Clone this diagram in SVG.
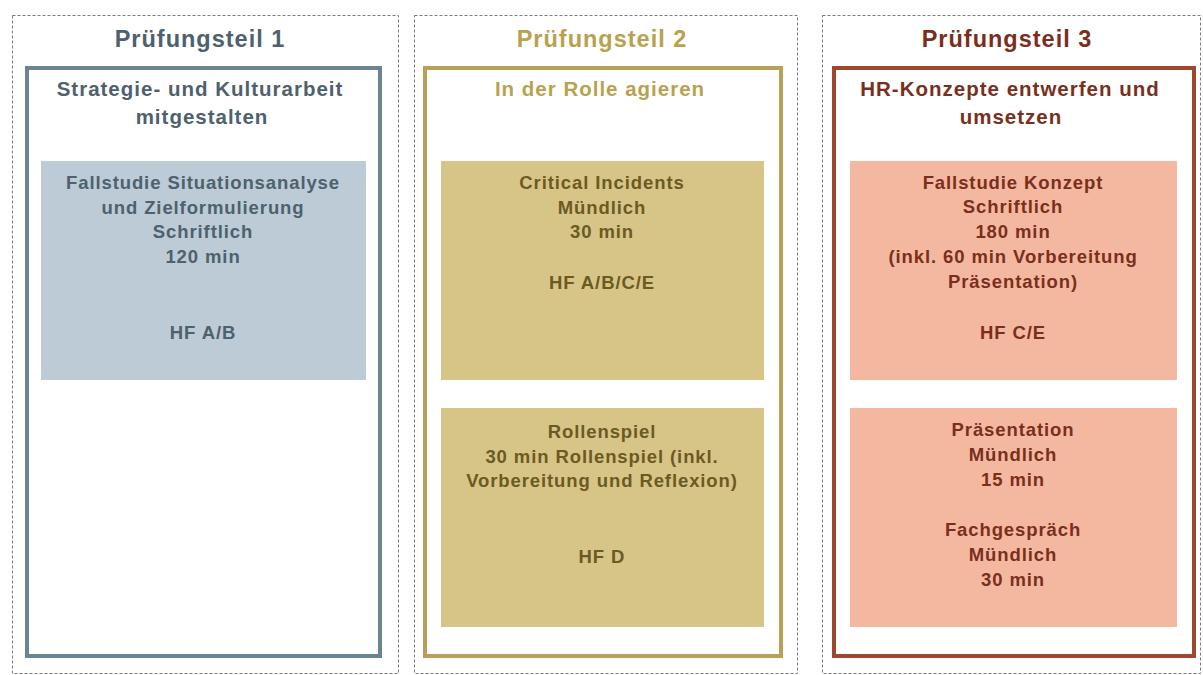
<svg xmlns="http://www.w3.org/2000/svg" width="1203" height="675" viewBox="0 0 1203 675">
<style>
.outer{fill:#fff;stroke:#7a7a7a;stroke-width:1;stroke-dasharray:3 2}
.inner{fill:#fff;stroke-width:4}
text{font-family:"Liberation Sans",Arial,sans-serif;font-weight:bold;text-anchor:middle}
.t{font-size:23.5px;letter-spacing:1px}
.s{font-size:20.5px;letter-spacing:1px}
.b{font-size:18.5px;letter-spacing:0.9px}
.c1{fill:#4d616e}.c2{fill:#b8a24e}.c3{fill:#7a2f1c}
.d2{fill:#6b5a22}
</style>
<rect width="1203" height="675" fill="#fff"/>
<g id="teil1">
<rect class="outer" x="12.5" y="15.5" width="386" height="658"/>
<text class="t c1" x="200" y="47">Prüfungsteil 1</text>
<rect class="inner" x="27" y="68" width="353" height="588" stroke="#6a8491"/>
<text class="s c1" x="200" y="96">Strategie- und Kulturarbeit</text>
<text class="s c1" x="202" y="124">mitgestalten</text>
</g>
<g id="fall1">
<rect x="41" y="161" width="325" height="219" fill="#bccbd5"/>
<text class="b c1" x="203" y="189">Fallstudie Situationsanalyse</text>
<text class="b c1" x="203" y="214">und Zielformulierung</text>
<text class="b c1" x="203" y="238">Schriftlich</text>
<text class="b c1" x="203" y="263">120 min</text>
<text class="b c1" x="203" y="339">HF A/B</text>
</g>
<g id="teil2">
<rect class="outer" x="414.5" y="15.5" width="383" height="658"/>
<text class="t c2" x="602" y="47">Prüfungsteil 2</text>
<rect class="inner" x="425" y="68" width="356" height="588" stroke="#b9a058"/>
<text class="s c2" x="600" y="96">In der Rolle agieren</text>
</g>
<g id="critical">
<rect x="441" y="161" width="323" height="219" fill="#d7c588"/>
<text class="b d2" x="602" y="189">Critical Incidents</text>
<text class="b d2" x="602" y="214">Mündlich</text>
<text class="b d2" x="602" y="238">30 min</text>
<text class="b d2" x="602" y="289">HF A/B/C/E</text>
</g>
<g id="rollenspiel">
<rect x="441" y="408" width="323" height="219" fill="#d7c588"/>
<text class="b d2" x="602" y="438">Rollenspiel</text>
<text class="b d2" x="602" y="463">30 min Rollenspiel (inkl.</text>
<text class="b d2" x="602" y="487">Vorbereitung und Reflexion)</text>
<text class="b d2" x="602" y="563">HF D</text>
</g>
<g id="teil3">
<rect class="outer" x="822.5" y="15.5" width="378" height="658"/>
<text class="t c3" x="1007" y="47">Prüfungsteil 3</text>
<rect class="inner" x="834" y="68" width="360" height="588" stroke="#a0462a"/>
<text class="s c3" x="1010" y="96">HR-Konzepte entwerfen und</text>
<text class="s c3" x="1011" y="124">umsetzen</text>
</g>
<g id="konzept">
<rect x="850" y="161" width="327" height="219" fill="#f4b8a0"/>
<text class="b c3" x="1013" y="189">Fallstudie Konzept</text>
<text class="b c3" x="1013" y="213">Schriftlich</text>
<text class="b c3" x="1013" y="238">180 min</text>
<text class="b c3" x="1013" y="263">(inkl. 60 min Vorbereitung</text>
<text class="b c3" x="1013" y="288">Präsentation)</text>
<text class="b c3" x="1013" y="339">HF C/E</text>
</g>
<g id="praesentation">
<rect x="850" y="408" width="327" height="219" fill="#f4b8a0"/>
<text class="b c3" x="1013" y="436">Präsentation</text>
<text class="b c3" x="1013" y="461">Mündlich</text>
<text class="b c3" x="1013" y="486">15 min</text>
<text class="b c3" x="1013" y="536">Fachgespräch</text>
<text class="b c3" x="1013" y="561">Mündlich</text>
<text class="b c3" x="1013" y="586">30 min</text>
</g>
<g id="connectors"></g>
</svg>
